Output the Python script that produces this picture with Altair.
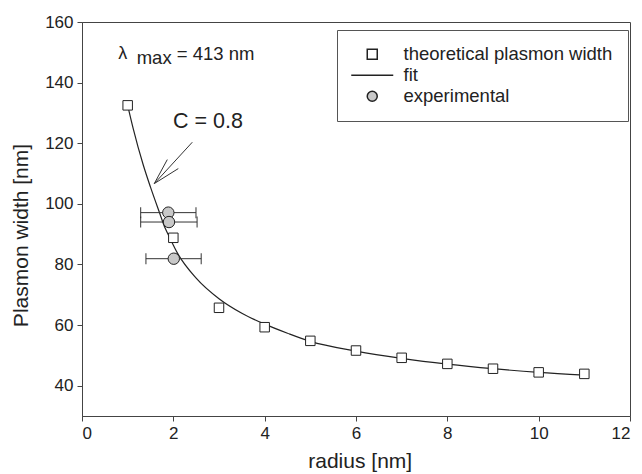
import altair as alt
import pandas as pd

# ---- data ----
theo_r = [1, 2, 3, 4, 5, 6, 7, 8, 9, 10, 11]
theo_w = [132.5, 88.8, 65.7, 59.3, 54.8, 51.6, 49.2, 47.2, 45.6, 44.4, 43.9]

fit_r = [1.0, 1.12, 1.34, 1.5, 1.69, 1.82, 1.9, 2.1, 2.5, 3.0, 3.5, 4.0, 4.5,
         5.0, 6.0, 7.0, 8.0, 9.0, 10.0, 11.0]
fit_w = [132.5, 124.9, 112.9, 105.5, 97.4, 92.0, 89.5, 83.5, 75.5, 68.7, 63.9,
         60.3, 57.3, 54.6, 51.4, 49.0, 47.1, 45.6, 44.4, 43.5]

exp_r = [1.89, 1.905, 2.01]
exp_w = [97.1, 94.0, 81.9]
exp_lo = [1.285, 1.285, 1.40]
exp_hi = [2.496, 2.52, 2.61]

series_names = ["theoretical plasmon width", "fit", "experimental"]

x_ticks = [0, 2, 4, 6, 8, 10, 12]
y_ticks = [40, 60, 80, 100, 120, 140, 160]

# annotation anchors (data units)
lam_x, lam_y = 0.795, 147.8
max_x, max_y = 1.198, 146.1
eq_x, eq_y = 2.074, 147.4
c_x, c_y = 1.993, 124.9
arrow_x = [2.415, 1.583, 1.583]
arrow_y = [120.33, 106.68, 106.68]
arrow_x2 = [1.583, 1.868, 2.109]
arrow_y2 = [106.68, 114.61, 111.64]

FONT = "Liberation Sans"
INK = "#222222"

theo = pd.DataFrame({"r": theo_r, "w": theo_w, "series": series_names[0]})
fit = pd.DataFrame({"r": fit_r, "w": fit_w, "series": series_names[1]})
exp = pd.DataFrame({"r": exp_r, "w": exp_w, "lo": exp_lo, "hi": exp_hi,
                    "series": series_names[2]})
arrow = pd.DataFrame({"x": arrow_x, "y": arrow_y, "x2": arrow_x2, "y2": arrow_y2})

xscale = alt.Scale(domain=[0, 12], nice=False)
yscale = alt.Scale(domain=[30, 160], nice=False)

X = alt.X("r:Q", scale=xscale,
          axis=alt.Axis(values=x_ticks, title="radius [nm]", titleX=277.7,
                        titleY=51.7, titleBaseline="alphabetic"))
Y = alt.Y("w:Q", scale=yscale,
          axis=alt.Axis(values=y_ticks, title="Plasmon width [nm]", titleX=-61,
                        titleY=213, titleAngle=-90, titleAlign="center",
                        titleBaseline="middle"))

legend = alt.Legend(title=None, orient="none", legendX=255, legendY=8,
                    strokeColor="#555555", fillColor="white", padding=15,
                    labelFont=FONT, labelFontSize=18.5, labelColor=INK,
                    labelLimit=400, rowPadding=2, symbolSize=100,
                    symbolOffset=11, labelOffset=22)

# legend line symbol: a horizontal stroke ~42 px long at the legend symbol size
shape_scale = alt.Scale(domain=series_names,
                        range=["square", "M-4.2,0H4.2", "circle"])
fill_scale = alt.Scale(domain=series_names, range=["white", "transparent", "#c8c8c8"])

def point_layer(df, size):
    return alt.Chart(df).mark_point(filled=True, stroke=INK, strokeWidth=1,
                                    opacity=1, size=size).encode(
        x=X, y=Y,
        shape=alt.Shape("series:N", scale=shape_scale, legend=legend),
        fill=alt.Fill("series:N", scale=fill_scale, legend=legend),
    )

fit_line = alt.Chart(fit).mark_line(color=INK, strokeWidth=1.2,
                                    interpolate="monotone").encode(x=X, y=Y)

err_rule = alt.Chart(exp).mark_rule(color="#333333", strokeWidth=1).encode(
    x=alt.X("lo:Q", scale=xscale), x2="hi", y=alt.Y("w:Q", scale=yscale))
err_lo = alt.Chart(exp).mark_tick(orient="vertical", size=11, thickness=1,
                                  color="#333333", opacity=1).encode(
    x=alt.X("lo:Q", scale=xscale), y=alt.Y("w:Q", scale=yscale))
err_hi = alt.Chart(exp).mark_tick(orient="vertical", size=11, thickness=1,
                                  color="#333333", opacity=1).encode(
    x=alt.X("hi:Q", scale=xscale), y=alt.Y("w:Q", scale=yscale))

def text_layer(x, y, txt, size):
    d = pd.DataFrame({"x": [x], "y": [y], "t": [txt]})
    return alt.Chart(d).mark_text(align="left", baseline="alphabetic", font=FONT,
                                  fontSize=size, color=INK).encode(
        x=alt.X("x:Q", scale=xscale), y=alt.Y("y:Q", scale=yscale), text="t:N")

arrow_layer = alt.Chart(arrow).mark_rule(color="#333333", strokeWidth=1).encode(
    x=alt.X("x:Q", scale=xscale), y=alt.Y("y:Q", scale=yscale), x2="x2", y2="y2")

chart = alt.layer(
    fit_line,
    err_rule, err_lo, err_hi,
    point_layer(theo, 90),
    point_layer(exp, 130),
    arrow_layer,
    text_layer(lam_x, lam_y, "λ", 18),
    text_layer(max_x, max_y, "max", 18.5),
    text_layer(eq_x, eq_y, "= 413 nm", 18.5),
    text_layer(c_x, c_y, "C = 0.8", 21.5),
).properties(
    width=548, height=394,
    autosize=alt.AutoSizeParams(type="none"),
    padding={"left": 82, "top": 22, "right": 12, "bottom": 58},
    background="white",
).configure_view(
    stroke="#444444", strokeWidth=1
).configure_axis(
    grid=False, domainColor="#444444", tickColor="#444444", tickSize=5,
    labelFont=FONT, labelFontSize=17, labelColor=INK, labelPadding=4,
    titleFont=FONT, titleFontSize=21, titleFontWeight="normal", titleColor=INK,
)

chart.save("out.html", embed_options={"renderer": "svg", "actions": False})
